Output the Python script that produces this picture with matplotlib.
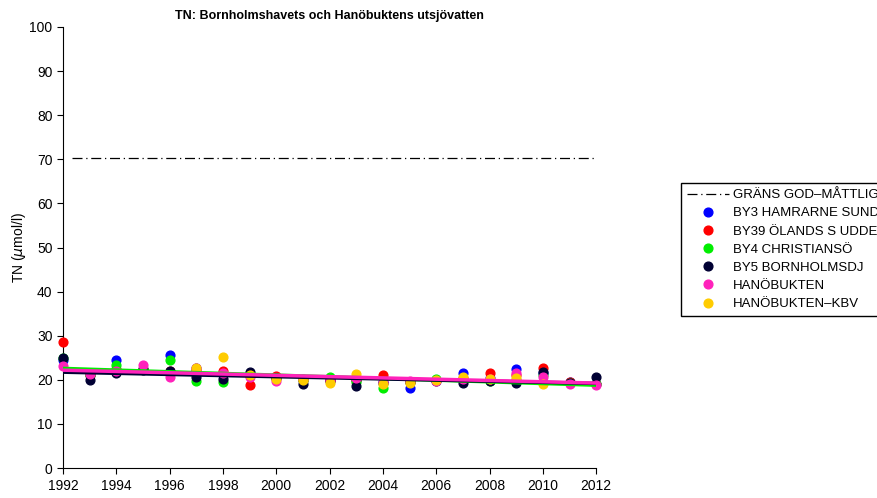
import numpy as np
import matplotlib.pyplot as plt

plt.rcParams['font.family'] = ['Liberation Sans', 'DejaVu Sans']

years = list(range(1992, 2013))
nan = np.nan

# TN (µmol/l)
by3 = [24.5, 21.0, 24.6, 22.5, 25.6, 22.6, 21.0, 21.0, 20.5, 20.0, 20.0,
       20.0, 19.5, 18.1, 20.0, 21.6, 20.5, 22.5, 21.5, 19.5, 19.0]
by39 = [28.5, 21.0, 22.4, 22.4, 22.0, 22.2, 22.1, 18.8, 20.9, 20.0, 20.0,
        20.0, 21.0, 19.5, 20.0, 20.5, 21.5, 21.0, 22.6, 19.5, 19.0]
by4 = [25.0, 21.0, 23.4, 22.5, 24.6, 19.8, 19.6, 21.0, 20.5, 20.0, 20.7,
       19.6, 18.1, 19.5, 20.1, 20.0, 19.8, 20.0, 21.0, 19.4, 19.0]
by5 = [24.9, 20.0, 21.6, 22.2, 21.9, 20.7, 20.1, 21.8, 20.5, 19.0, 19.8,
       18.6, 19.3, 19.5, 19.8, 19.3, 19.8, 19.2, 21.8, 19.3, 20.7]
hano = [23.2, 21.3, 22.0, 23.4, 20.7, 22.6, 21.5, 20.7, 19.8, 20.2, 20.0,
        20.5, 19.5, 19.8, 19.8, 20.2, 20.2, 21.6, 20.7, 19.0, 18.8]
hano_kbv = [nan, nan, nan, nan, nan, 22.8, 25.2, 21.0, 20.3, 20.0, 19.3,
            21.3, 19.0, 19.2, 20.0, 20.6, 20.1, 20.4, 19.0, nan, nan]

GRANS = 70.3

series = [
    ('BY3 HAMRARNE SUND', by3, '#0000ff'),
    ('BY39 ÖLANDS S UDDE', by39, '#ff0000'),
    ('BY4 CHRISTIANSÖ', by4, '#00ee00'),
    ('BY5 BORNHOLMSDJ', by5, '#000033'),
    ('HANÖBUKTEN', hano, '#ff22bb'),
    ('HANÖBUKTEN–KBV', hano_kbv, '#ffcc00'),
]

fig = plt.figure(figsize=(8.77, 4.98), dpi=100)
ax = fig.add_axes([0.0718, 0.060, 0.608, 0.886])

x = np.array(years)
ax.plot([1992.35, 2012], [GRANS, GRANS], color='black', lw=0.9,
        linestyle=(0, (8, 3, 1, 3)), label='GRÄNS GOD–MÅTTLIG')

for name, vals, col in series:
    ax.plot(x, vals, 'o', color=col, markersize=6.3, label=name,
            linestyle='none', zorder=3, clip_on=False)

# trendlinjer
for vals, col in [(by4, '#00ee00'), (by5, '#000033'), (hano, '#ff22bb')]:
    v = np.array(vals)
    ok = ~np.isnan(v)
    k, m = np.polyfit(x[ok], v[ok], 1)
    ax.plot(x, k * x + m, color=col, lw=2.5, zorder=4)

ax.set_xlim(1992, 2012)
ax.set_ylim(0, 100)
ax.set_xticks(range(1992, 2013, 2))
ax.set_yticks(range(0, 101, 10))
for s in ['top', 'right']:
    ax.spines[s].set_visible(False)
ax.tick_params(direction='out', length=4, labelsize=10)
ax.set_ylabel('TN ($\\mu$mol/l)', fontsize=10, labelpad=1)
ax.set_title('TN: Bornholmshavets och Hanöbuktens utsjövatten',
             fontsize=9, fontweight='bold', pad=6)

fig.legend(loc='upper left', bbox_to_anchor=(0.7765, 0.6325),
           borderaxespad=0, fontsize=9.5, frameon=True, fancybox=False,
           edgecolor='black', borderpad=0.45, labelspacing=0.45,
           handlelength=3.2, handletextpad=0.3, framealpha=1)

plt.savefig('out.png', dpi=100)
